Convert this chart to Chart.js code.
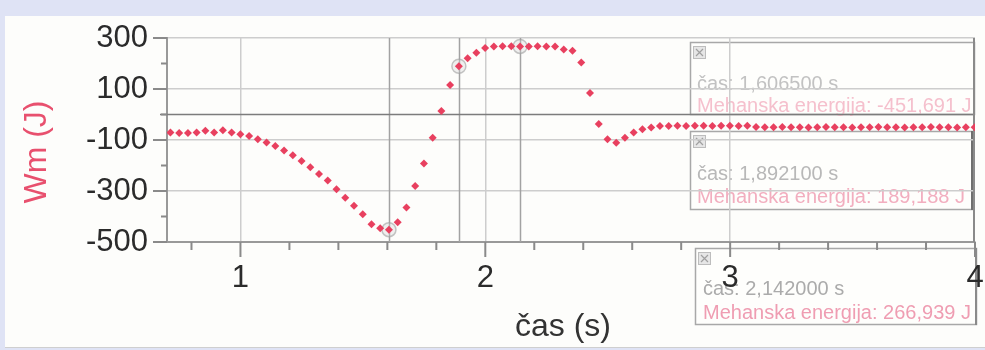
<!DOCTYPE html>
<html><head><meta charset="utf-8">
<script src="https://cdn.jsdelivr.net/npm/chart.js@4.4.1/dist/chart.umd.min.js"></script>
<style>html,body{margin:0;padding:0;background:#dfe3f5;overflow:hidden}canvas{display:block}</style>
</head><body>
<canvas id="c" width="985" height="350"></canvas>
<script>
// ---- data ----
const times = [0.714,0.7497,0.7854,0.8211,0.8568,0.8925,0.9282,0.9639,0.9996,1.0353,
1.071,1.1067,1.1424,1.1781,1.2138,1.2495,1.2852,1.3209,1.3566,1.3923,
1.428,1.4637,1.4994,1.5351,1.5708,1.6065,1.6422,1.6779,1.7136,1.7493,
1.785,1.8207,1.8564,1.8921,1.9278,1.9635,1.9992,2.0349,2.0706,2.1063,
2.142,2.1777,2.2134,2.2491,2.2848,2.3205,2.3562,2.3919,2.4276,2.4633,
2.499,2.5347,2.5704,2.6061,2.6418,2.6775,2.7132,2.7489,2.7846,2.8203,
2.856,2.8917,2.9274,2.9631,2.9988,3.0345,3.0702,3.1059,3.1416,3.1773,
3.213,3.2487,3.2844,3.3201,3.3558,3.3915,3.4272,3.4629,3.4986,3.5343,
3.57,3.6057,3.6414,3.6771,3.7128,3.7485,3.7842,3.8199,3.8556,3.8913,
3.927,3.9627,3.9984];
const energy = [-71,-73,-73,-71,-64,-71,-62,-71,-77,-84,
-97,-110,-124,-141,-160,-182,-207,-233,-259,-293,
-326,-358,-391,-430,-446,-452,-423,-365,-280,-192,
-91,14,116,189,221,242,261,267,268,268,
267,267,268,267,267,255,250,204,84,-37,
-97,-111,-91,-71,-58,-51,-45,-45,-44,-45,
-44,-44,-45,-44,-44,-45,-44,-49,-50,-50,
-49,-50,-50,-51,-50,-49,-50,-50,-51,-50,
-50,-49,-50,-50,-51,-50,-50,-49,-50,-50,
-51,-50,-50];
const cursorTimes = [1.6065, 1.8921, 2.142];
const cursorEnergy = [-451.691, 189.188, 266.939];
const yLabelTicks = [-500, -300, -100, 100, 300];
const yMinorTicks = [-400, -200, 0, 200];
const xLabelTicks = [1, 2, 3, 4];
const xMinorTicks = [0.8, 1.2, 1.4, 1.6, 1.8, 2.2, 2.4, 2.6, 2.8, 3.2, 3.4, 3.6, 3.8];
const xTitle = 'čas (s)';
const yTitle = 'Wm (J)';
const seriesName = 'Mehanska energija';
const timeName = 'čas';

const FONT = "'Liberation Sans', Arial, sans-serif";

function fmt(v, d){ return v.toFixed(d).replace('.', ','); }

// annotation box layout (pixels)
const boxes = [
  {x:690, y:42, w:285, h:73, tx:697, b1:90, b2:112, grey:'#c2c2c2', pink:'#f5c0cd', right:'#6f6f6f'},
  {x:690, y:131, w:283, h:79, tx:697, b1:180, b2:203, grey:'#b8b8b8', pink:'#f2aebf', right:'#6f6f6f'},
  {x:695, y:248, w:282, h:77, tx:703, b1:295, b2:319, grey:'#ababab', pink:'#ef9db2', right:'#8a8a8a'}
];

const bgPlugin = {
  id:'bg',
  beforeDraw(chart){
    const c = chart.ctx;
    c.save();
    c.fillStyle = '#dfe3f5';
    c.fillRect(0,0,985,350);
    c.fillStyle = '#fdfdfb';
    c.fillRect(5,16,980,331);
    c.fillStyle = '#cfcfcf';
    c.fillRect(5,347,980,1);
    boxes.forEach((b,i)=>{
      c.fillStyle = 'rgba(255,255,255,0.35)';
      c.fillRect(b.x,b.y,b.w,b.h);
      c.strokeStyle = '#a8a8a8';
      c.lineWidth = 1.5;
      c.strokeRect(b.x+0.5,b.y+0.5,b.w-1,b.h-1);
      c.strokeStyle = b.right;
      c.lineWidth = 2;
      c.beginPath(); c.moveTo(b.x+b.w-1,b.y); c.lineTo(b.x+b.w-1,b.y+b.h); c.stroke();
      const ix = b.x+3, iy = b.y+4;
      c.fillStyle = '#e6e6e6'; c.fillRect(ix,iy,13,13);
      c.strokeStyle = '#bdbdbd'; c.lineWidth = 1; c.strokeRect(ix+0.5,iy+0.5,12,12);
      c.strokeStyle = '#a0a0a0'; c.lineWidth = 1.2;
      c.beginPath(); c.moveTo(ix+3,iy+3); c.lineTo(ix+10,iy+10); c.moveTo(ix+10,iy+3); c.lineTo(ix+3,iy+10); c.stroke();
      c.font = '20px ' + FONT;
      c.textAlign = 'left'; c.textBaseline = 'alphabetic';
      c.fillStyle = b.grey;
      c.fillText(timeName + ': ' + fmt(cursorTimes[i],6) + ' s', b.tx, b.b1);
      c.fillStyle = b.pink;
      c.fillText(seriesName + ': ' + fmt(cursorEnergy[i],3) + ' J', b.tx, b.b2);
    });
    c.restore();
  }
};

const decorPlugin = {
  id:'decor',
  beforeDatasetsDraw(chart){
    const c = chart.ctx, xs = chart.scales.x, ys = chart.scales.y, a = chart.chartArea;
    c.save();
    c.strokeStyle = '#a2a2a2'; c.lineWidth = 1.5;
    cursorTimes.forEach(t=>{
      const px = Math.round(xs.getPixelForValue(t))+0.5;
      c.beginPath(); c.moveTo(px,a.top); c.lineTo(px,a.bottom); c.stroke();
    });
    const z = ys.getPixelForValue(0);
    c.strokeStyle = '#7c7c7c'; c.lineWidth = 1.5;
    c.beginPath(); c.moveTo(a.left-7,z); c.lineTo(a.right,z); c.stroke();
    c.strokeStyle = '#8a8a8a'; c.lineWidth = 2;
    c.beginPath(); c.moveTo(a.right-1,a.top); c.lineTo(a.right-1,a.bottom); c.stroke();
    c.strokeStyle = '#8a8a8a'; c.lineWidth = 2;
    c.beginPath();
    yLabelTicks.forEach(v=>{ const p = ys.getPixelForValue(v); c.moveTo(a.left-14,p); c.lineTo(a.left,p); });
    yMinorTicks.forEach(v=>{ const p = ys.getPixelForValue(v); c.moveTo(a.left-6,p); c.lineTo(a.left,p); });
    xLabelTicks.forEach(v=>{ const p = xs.getPixelForValue(v); c.moveTo(p,a.bottom); c.lineTo(p,a.bottom+15); });
    xMinorTicks.forEach(v=>{ const p = xs.getPixelForValue(v); c.moveTo(p,a.bottom); c.lineTo(p,a.bottom+8); });
    c.stroke();
    c.restore();
  },
  afterDraw(chart){
    const c = chart.ctx;
    c.save();
    c.font = '32px ' + FONT;
    c.textAlign = 'center'; c.textBaseline = 'middle';
    c.fillStyle = '#333333';
    c.fillText(xTitle, 563, 327);
    c.translate(37, 152);
    c.rotate(-Math.PI/2);
    c.fillStyle = '#e8506e';
    c.fillText(yTitle, 0, 0);
    c.restore();
  }
};

new Chart(document.getElementById('c'), {
  type:'scatter',
  data:{
    datasets:[
      {
        label: seriesName,
        data: times.map((t,i)=>({x:t, y:energy[i]})),
        pointStyle:'rectRot', pointRadius:4, pointHoverRadius:4,
        backgroundColor:'#e8405f', borderWidth:0, showLine:false
      },
      {
        label:'cursor',
        data: cursorTimes.map((t,i)=>({x:t, y:cursorEnergy[i]})),
        pointStyle:'circle', pointRadius:7, borderWidth:1.5,
        borderColor:'rgba(160,160,160,0.6)', backgroundColor:'rgba(210,210,210,0.3)', showLine:false
      }
    ]
  },
  options:{
    responsive:false, animation:false, devicePixelRatio:1,
    layout:{padding:{left:0, top:38, right:10, bottom:0}},
    plugins:{legend:{display:false}, tooltip:{enabled:false}},
    events:[],
    scales:{
      x:{
        type:'linear', min:0.7, max:4,
        afterBuildTicks:s=>{ s.ticks = xLabelTicks.map(v=>({value:v})); },
        afterFit:s=>{ s.height = 108; s.paddingLeft = 0; s.paddingRight = 0; },
        grid:{ color:ctx=> (ctx.tick && ctx.tick.value < 4) ? '#cdcdcd' : 'rgba(0,0,0,0)', lineWidth:1.5, drawTicks:false },
        border:{ display:true, color:'#999999', width:2 },
        ticks:{ padding:18, font:{family:FONT, size:31}, color:'#2b2b2b', maxRotation:0, autoSkip:false, callback:v=>String(v) }
      },
      y:{
        type:'linear', min:-500, max:300,
        afterBuildTicks:s=>{ s.ticks = yLabelTicks.map(v=>({value:v})); },
        afterFit:s=>{ s.width = 167; s.paddingTop = 0; s.paddingBottom = 0; },
        grid:{ color:'#cdcdcd', lineWidth:1.5, drawTicks:false },
        border:{ display:true, color:'#999999', width:2 },
        ticks:{ padding:19, font:{family:FONT, size:31}, color:'#2b2b2b', autoSkip:false, callback:v=>String(v) }
      }
    }
  },
  plugins:[bgPlugin, decorPlugin]
});
</script>
</body></html>
